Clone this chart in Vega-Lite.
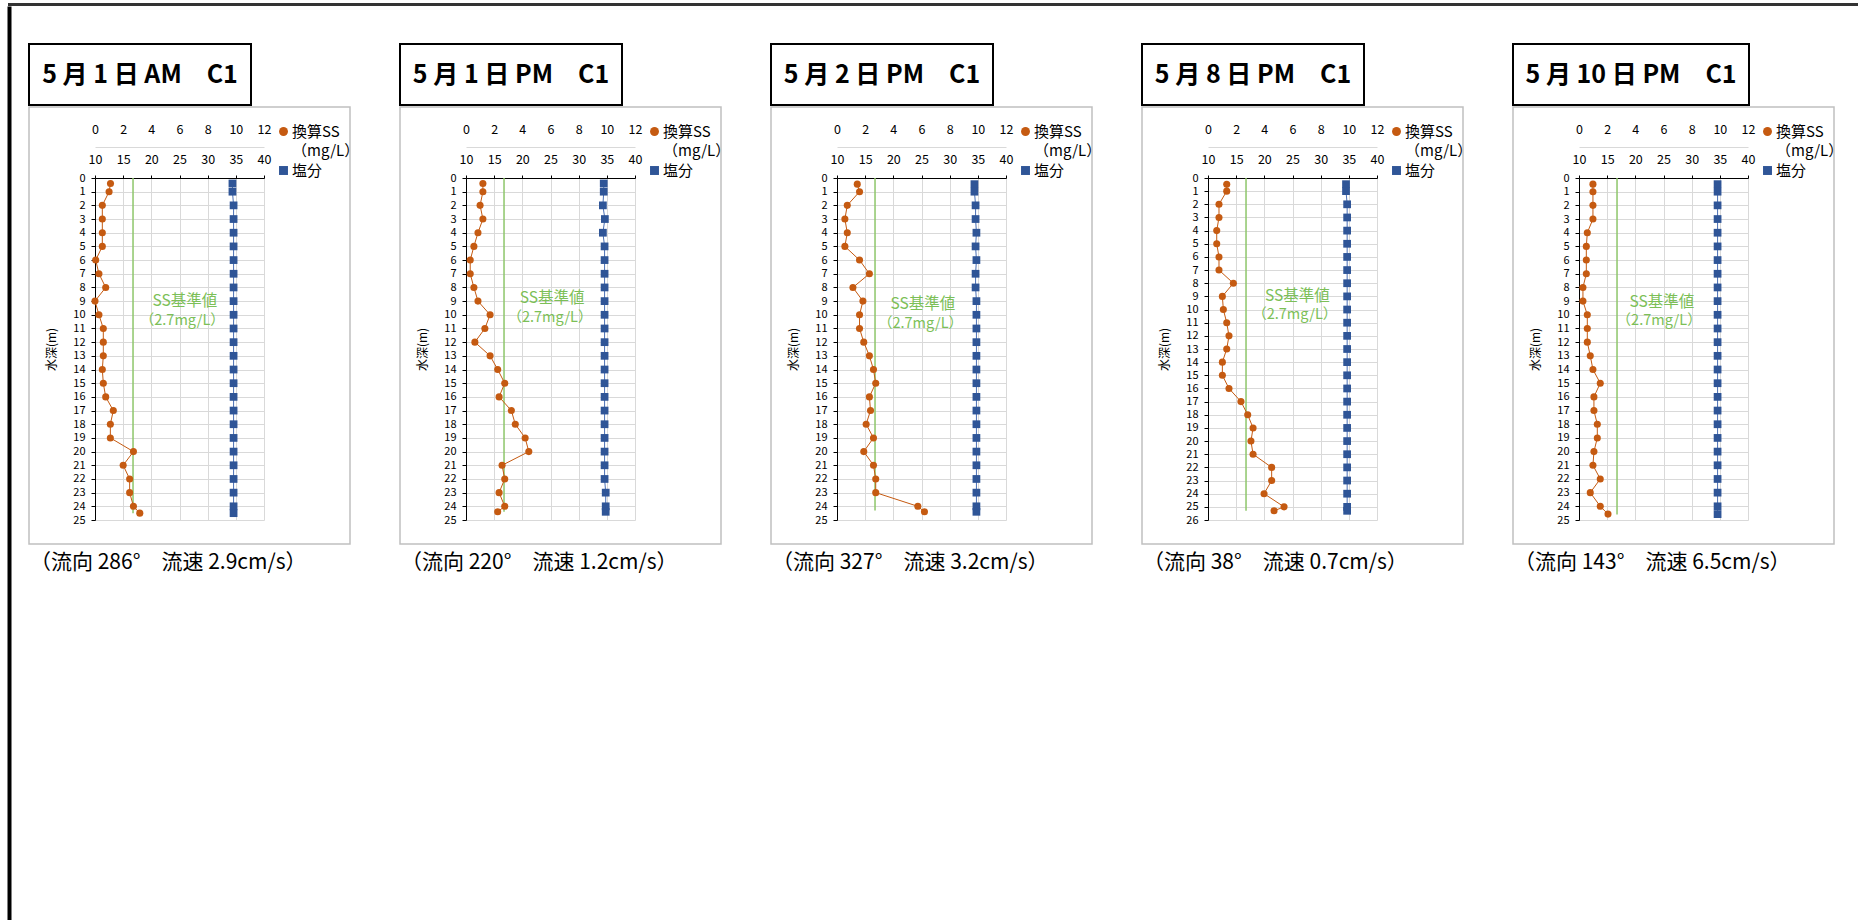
{
"$schema": "https://vega.github.io/schema/vega-lite/v6.json",
"padding": {"left": 7, "top": 3, "right": 0, "bottom": 0},
"background": "white",
"config": {
  "font": "Noto Sans CJK JP",
  "view": {"stroke": null},
  "axis": {"labelFont": "Noto Sans CJK JP", "titleFont": "Noto Sans CJK JP", "labelColor": "#000", "titleColor": "#000", "labelOverlap": false, "labelFlush": false},
  "legend": {"labelFont": "Noto Sans CJK JP", "labelColor": "#000"},
  "title": {"font": "Noto Sans CJK JP", "color": "#000", "fontWeight": "normal"}
},
"datasets": {
"d": [
{"p":1,"depth":0.4,"ss":1.1,"sal":34.4},{"p":1,"depth":1,"ss":1.0,"sal":34.4},{"p":1,"depth":2,"ss":0.52,"sal":34.6},{"p":1,"depth":3,"ss":0.52,"sal":34.6},{"p":1,"depth":4,"ss":0.52,"sal":34.6},{"p":1,"depth":5,"ss":0.52,"sal":34.6},{"p":1,"depth":6,"ss":0.05,"sal":34.6},{"p":1,"depth":7,"ss":0.28,"sal":34.6},{"p":1,"depth":8,"ss":0.76,"sal":34.6},{"p":1,"depth":9,"ss":0.0,"sal":34.6},{"p":1,"depth":10,"ss":0.28,"sal":34.6},{"p":1,"depth":11,"ss":0.59,"sal":34.6},{"p":1,"depth":12,"ss":0.59,"sal":34.6},{"p":1,"depth":13,"ss":0.59,"sal":34.6},{"p":1,"depth":14,"ss":0.52,"sal":34.6},{"p":1,"depth":15,"ss":0.59,"sal":34.6},{"p":1,"depth":16,"ss":0.76,"sal":34.6},{"p":1,"depth":17,"ss":1.3,"sal":34.6},{"p":1,"depth":18,"ss":1.09,"sal":34.6},{"p":1,"depth":19,"ss":1.09,"sal":34.6},{"p":1,"depth":20,"ss":2.73,"sal":34.6},{"p":1,"depth":21,"ss":2.0,"sal":34.6},{"p":1,"depth":22,"ss":2.46,"sal":34.6},{"p":1,"depth":23,"ss":2.46,"sal":34.6},{"p":1,"depth":24,"ss":2.73,"sal":34.6},{"p":1,"depth":24.5,"ss":3.18,"sal":34.6},
{"p":2,"depth":0.4,"ss":1.2,"sal":34.45},{"p":2,"depth":1,"ss":1.2,"sal":34.45},{"p":2,"depth":2,"ss":1.0,"sal":34.3},{"p":2,"depth":3,"ss":1.2,"sal":34.65},{"p":2,"depth":4,"ss":0.85,"sal":34.3},{"p":2,"depth":5,"ss":0.56,"sal":34.6},{"p":2,"depth":6,"ss":0.3,"sal":34.6},{"p":2,"depth":7,"ss":0.3,"sal":34.6},{"p":2,"depth":8,"ss":0.56,"sal":34.6},{"p":2,"depth":9,"ss":0.85,"sal":34.6},{"p":2,"depth":10,"ss":1.71,"sal":34.6},{"p":2,"depth":11,"ss":1.34,"sal":34.6},{"p":2,"depth":12,"ss":0.63,"sal":34.6},{"p":2,"depth":13,"ss":1.71,"sal":34.6},{"p":2,"depth":14,"ss":2.25,"sal":34.6},{"p":2,"depth":15,"ss":2.75,"sal":34.6},{"p":2,"depth":16,"ss":2.35,"sal":34.6},{"p":2,"depth":17,"ss":3.22,"sal":34.6},{"p":2,"depth":18,"ss":3.5,"sal":34.6},{"p":2,"depth":19,"ss":4.2,"sal":34.6},{"p":2,"depth":20,"ss":4.46,"sal":34.6},{"p":2,"depth":21,"ss":2.56,"sal":34.6},{"p":2,"depth":22,"ss":2.75,"sal":34.6},{"p":2,"depth":23,"ss":2.35,"sal":34.8},{"p":2,"depth":24,"ss":2.75,"sal":34.8},{"p":2,"depth":24.4,"ss":2.25,"sal":34.8},
{"p":3,"depth":0.45,"ss":1.44,"sal":34.4},{"p":3,"depth":1,"ss":1.6,"sal":34.4},{"p":3,"depth":2,"ss":0.73,"sal":34.6},{"p":3,"depth":3,"ss":0.56,"sal":34.6},{"p":3,"depth":4,"ss":0.73,"sal":34.75},{"p":3,"depth":5,"ss":0.56,"sal":34.6},{"p":3,"depth":6,"ss":1.6,"sal":34.75},{"p":3,"depth":7,"ss":2.3,"sal":34.6},{"p":3,"depth":8,"ss":1.13,"sal":34.6},{"p":3,"depth":9,"ss":1.84,"sal":34.75},{"p":3,"depth":10,"ss":1.6,"sal":34.75},{"p":3,"depth":11,"ss":1.6,"sal":34.75},{"p":3,"depth":12,"ss":1.9,"sal":34.75},{"p":3,"depth":13,"ss":2.3,"sal":34.75},{"p":3,"depth":14,"ss":2.59,"sal":34.75},{"p":3,"depth":15,"ss":2.75,"sal":34.75},{"p":3,"depth":16,"ss":2.3,"sal":34.75},{"p":3,"depth":17,"ss":2.38,"sal":34.75},{"p":3,"depth":18,"ss":2.07,"sal":34.75},{"p":3,"depth":19,"ss":2.59,"sal":34.75},{"p":3,"depth":20,"ss":1.9,"sal":34.75},{"p":3,"depth":21,"ss":2.59,"sal":34.75},{"p":3,"depth":22,"ss":2.75,"sal":34.75},{"p":3,"depth":23,"ss":2.75,"sal":34.75},{"p":3,"depth":24,"ss":5.74,"sal":34.75},{"p":3,"depth":24.4,"ss":6.21,"sal":34.75},
{"p":4,"depth":0.47,"ss":1.33,"sal":34.5},{"p":4,"depth":1,"ss":1.33,"sal":34.5},{"p":4,"depth":2,"ss":0.78,"sal":34.7},{"p":4,"depth":3,"ss":0.78,"sal":34.7},{"p":4,"depth":4,"ss":0.62,"sal":34.7},{"p":4,"depth":5,"ss":0.62,"sal":34.7},{"p":4,"depth":6,"ss":0.78,"sal":34.7},{"p":4,"depth":7,"ss":0.78,"sal":34.7},{"p":4,"depth":8,"ss":1.8,"sal":34.7},{"p":4,"depth":9,"ss":1.02,"sal":34.7},{"p":4,"depth":10,"ss":1.09,"sal":34.7},{"p":4,"depth":11,"ss":1.33,"sal":34.7},{"p":4,"depth":12,"ss":1.49,"sal":34.7},{"p":4,"depth":13,"ss":1.33,"sal":34.7},{"p":4,"depth":14,"ss":1.02,"sal":34.7},{"p":4,"depth":15,"ss":1.02,"sal":34.7},{"p":4,"depth":16,"ss":1.49,"sal":34.7},{"p":4,"depth":17,"ss":2.34,"sal":34.7},{"p":4,"depth":18,"ss":2.82,"sal":34.7},{"p":4,"depth":19,"ss":3.2,"sal":34.7},{"p":4,"depth":20,"ss":3.05,"sal":34.7},{"p":4,"depth":21,"ss":3.2,"sal":34.7},{"p":4,"depth":22,"ss":4.52,"sal":34.7},{"p":4,"depth":23,"ss":4.52,"sal":34.7},{"p":4,"depth":24,"ss":3.98,"sal":34.7},{"p":4,"depth":25,"ss":5.4,"sal":34.7},{"p":4,"depth":25.3,"ss":4.69,"sal":34.7},
{"p":5,"depth":0.45,"ss":0.99,"sal":34.6},{"p":5,"depth":1,"ss":0.99,"sal":34.6},{"p":5,"depth":2,"ss":0.99,"sal":34.6},{"p":5,"depth":3,"ss":0.99,"sal":34.6},{"p":5,"depth":4,"ss":0.59,"sal":34.6},{"p":5,"depth":5,"ss":0.52,"sal":34.6},{"p":5,"depth":6,"ss":0.52,"sal":34.6},{"p":5,"depth":7,"ss":0.52,"sal":34.6},{"p":5,"depth":8,"ss":0.28,"sal":34.6},{"p":5,"depth":9,"ss":0.28,"sal":34.6},{"p":5,"depth":10,"ss":0.59,"sal":34.6},{"p":5,"depth":11,"ss":0.59,"sal":34.6},{"p":5,"depth":12,"ss":0.59,"sal":34.6},{"p":5,"depth":13,"ss":0.8,"sal":34.6},{"p":5,"depth":14,"ss":0.99,"sal":34.6},{"p":5,"depth":15,"ss":1.51,"sal":34.6},{"p":5,"depth":16,"ss":1.06,"sal":34.6},{"p":5,"depth":17,"ss":1.06,"sal":34.6},{"p":5,"depth":18,"ss":1.3,"sal":34.6},{"p":5,"depth":19,"ss":1.3,"sal":34.6},{"p":5,"depth":20,"ss":1.06,"sal":34.6},{"p":5,"depth":21,"ss":0.99,"sal":34.6},{"p":5,"depth":22,"ss":1.51,"sal":34.6},{"p":5,"depth":23,"ss":0.8,"sal":34.6},{"p":5,"depth":24,"ss":1.51,"sal":34.6},{"p":5,"depth":24.57,"ss":2.06,"sal":34.6}
]
},
"spacing": 0,
"vconcat": [
 {"width": 1851, "height": 1, "view": {"stroke": "#333", "strokeWidth": 2}, "data": {"values": []}, "mark": "point"},
 {"spacing": 16, "hconcat": [
  {"width": 1, "height": 916, "view": {"stroke": "#000", "strokeWidth": 3}, "data": {"values": []}, "mark": "point"},
  {"spacing": 0, "vconcat": [
   {"width": 10, "height": 35, "data": {"values": []}, "mark": "point"},
   {"spacing": 39,
    "resolve": {"scale": {"color": "independent", "shape": "independent"}, "legend": {"color": "independent", "shape": "independent"}},
    "hconcat": [
{"spacing": 0, "vconcat": [
 {"width": 222, "height": 61, "view": {"stroke": "#000", "strokeWidth": 2}, "data": {"values": [{}]}, "mark": {"type": "text", "text": "5 月 1 日 AM　C1", "fontSize": 25, "fontWeight": "bold", "color": "#000"}},
 {"width": 321, "height": 437, "view": {"stroke": "#c0c0c0", "strokeWidth": 1.5},
  "title": {"text": "（流向 286°　流速 2.9cm/s）", "orient": "bottom", "anchor": "start", "frame": "group", "offset": 8, "dx": 1, "fontSize": 21},
  "data": {"name": "d"}, "transform": [{"filter": "datum.p == 1"}],
  "resolve": {"scale": {"x": "independent"}, "axis": {"x": "independent"}},
  "layer": [
   {"layer": [
     {"data": {"values": [{}]}, "mark": {"type": "rule", "color": "#8DC66A", "strokeWidth": 1.5},
      "encoding": {"x": {"datum": 2.7, "type": "quantitative", "scale": {"domain": [0, 12], "range": [66, 235], "nice": false, "zero": false}, "axis": {"orient": "top", "offset": -40, "values": [0,2,4,6,8,10,12], "grid": true, "gridColor": "#d9d9d9", "domainColor": "#d9d9d9", "ticks": false, "tickSize": 0, "labelPadding": 11, "labelFontSize": 12.5, "title": null}},
                   "y": {"datum": 0, "type": "quantitative", "scale": {"domain": [0, 25], "range": [71, 413], "nice": false, "zero": false}, "axis": {"orient": "left", "offset": -66, "values": [0,1,2,3,4,5,6,7,8,9,10,11,12,13,14,15,16,17,18,19,20,21,22,23,24,25], "grid": true, "gridColor": "#d9d9d9", "domainColor": "#000", "tickColor": "#000", "tickSize": 4, "labelPadding": 6, "labelFontSize": 11, "title": "水深(m)", "titleFontSize": 12, "titleFontWeight": "normal", "titlePadding": 14}},
                   "y2": {"datum": 24.5}}},
     {"data": {"values": [{}]}, "mark": {"type": "text", "text": "SS基準値", "fontSize": 15.5, "color": "#7CBF57"},
      "encoding": {"x": {"datum": 6.38, "type": "quantitative", "scale": {"domain": [0, 12], "range": [66, 235], "nice": false, "zero": false}, "axis": {"orient": "top", "offset": -40, "values": [0,2,4,6,8,10,12], "grid": true, "gridColor": "#d9d9d9", "domainColor": "#d9d9d9", "ticks": false, "tickSize": 0, "labelPadding": 11, "labelFontSize": 12.5, "title": null}},
                   "y": {"datum": 9.0, "type": "quantitative", "scale": {"domain": [0, 25], "range": [71, 413], "nice": false, "zero": false}, "axis": {"orient": "left", "offset": -66, "values": [0,1,2,3,4,5,6,7,8,9,10,11,12,13,14,15,16,17,18,19,20,21,22,23,24,25], "grid": true, "gridColor": "#d9d9d9", "domainColor": "#000", "tickColor": "#000", "tickSize": 4, "labelPadding": 6, "labelFontSize": 11, "title": "水深(m)", "titleFontSize": 12, "titleFontWeight": "normal", "titlePadding": 14}}}},
     {"data": {"values": [{}]}, "mark": {"type": "text", "text": "（2.7mg/L）", "fontSize": 14.5, "color": "#7CBF57"},
      "encoding": {"x": {"datum": 6.2, "type": "quantitative", "scale": {"domain": [0, 12], "range": [66, 235], "nice": false, "zero": false}, "axis": {"orient": "top", "offset": -40, "values": [0,2,4,6,8,10,12], "grid": true, "gridColor": "#d9d9d9", "domainColor": "#d9d9d9", "ticks": false, "tickSize": 0, "labelPadding": 11, "labelFontSize": 12.5, "title": null}},
                   "y": {"datum": 10.46, "type": "quantitative", "scale": {"domain": [0, 25], "range": [71, 413], "nice": false, "zero": false}, "axis": {"orient": "left", "offset": -66, "values": [0,1,2,3,4,5,6,7,8,9,10,11,12,13,14,15,16,17,18,19,20,21,22,23,24,25], "grid": true, "gridColor": "#d9d9d9", "domainColor": "#000", "tickColor": "#000", "tickSize": 4, "labelPadding": 6, "labelFontSize": 11, "title": "水深(m)", "titleFontSize": 12, "titleFontWeight": "normal", "titlePadding": 14}}}},
     {"mark": {"type": "line", "color": "#C55A11", "strokeWidth": 1},
      "encoding": {"x": {"field": "ss", "type": "quantitative", "scale": {"domain": [0, 12], "range": [66, 235], "nice": false, "zero": false}, "axis": {"orient": "top", "offset": -40, "values": [0,2,4,6,8,10,12], "grid": true, "gridColor": "#d9d9d9", "domainColor": "#d9d9d9", "ticks": false, "tickSize": 0, "labelPadding": 11, "labelFontSize": 12.5, "title": null}},
                   "y": {"field": "depth", "type": "quantitative", "scale": {"domain": [0, 25], "range": [71, 413], "nice": false, "zero": false}, "axis": {"orient": "left", "offset": -66, "values": [0,1,2,3,4,5,6,7,8,9,10,11,12,13,14,15,16,17,18,19,20,21,22,23,24,25], "grid": true, "gridColor": "#d9d9d9", "domainColor": "#000", "tickColor": "#000", "tickSize": 4, "labelPadding": 6, "labelFontSize": 11, "title": "水深(m)", "titleFontSize": 12, "titleFontWeight": "normal", "titlePadding": 14}},
                   "order": {"field": "depth", "type": "quantitative"}}},
     {"mark": {"type": "point", "filled": true, "opacity": 1, "size": 50},
      "encoding": {
        "x": {"field": "ss", "type": "quantitative", "scale": {"domain": [0, 12], "range": [66, 235], "nice": false, "zero": false}, "axis": {"orient": "top", "offset": -40, "values": [0,2,4,6,8,10,12], "grid": true, "gridColor": "#d9d9d9", "domainColor": "#d9d9d9", "ticks": false, "tickSize": 0, "labelPadding": 11, "labelFontSize": 12.5, "title": null}},
        "y": {"field": "depth", "type": "quantitative", "scale": {"domain": [0, 25], "range": [71, 413], "nice": false, "zero": false}, "axis": {"orient": "left", "offset": -66, "values": [0,1,2,3,4,5,6,7,8,9,10,11,12,13,14,15,16,17,18,19,20,21,22,23,24,25], "grid": true, "gridColor": "#d9d9d9", "domainColor": "#000", "tickColor": "#000", "tickSize": 4, "labelPadding": 6, "labelFontSize": 11, "title": "水深(m)", "titleFontSize": 12, "titleFontWeight": "normal", "titlePadding": 14}},
        "color": {"datum": "換算SS", "type": "nominal", "scale": {"domain": ["換算SS", "（mg/L）", "塩分"], "range": ["#C55A11", "rgba(0,0,0,0)", "#2F5597"]},
                  "legend": {"orient": "none", "legendX": 247, "legendY": 80, "title": null, "padding": 0, "labelFontSize": 15, "symbolSize": 80, "symbolStrokeWidth": 0, "rowPadding": 3.5, "labelOffset": 1}},
        "shape": {"datum": "換算SS", "type": "nominal", "scale": {"domain": ["換算SS", "（mg/L）", "塩分"], "range": ["circle", "circle", "square"]},
                  "legend": {"orient": "none", "legendX": 247, "legendY": 80, "title": null, "padding": 0, "labelFontSize": 15, "symbolSize": 80, "symbolStrokeWidth": 0, "rowPadding": 3.5, "labelOffset": 1}}
      }}
   ]},
   {"layer": [
     {"mark": {"type": "line", "color": "#4A6FB5", "strokeWidth": 1},
      "encoding": {"x": {"field": "sal", "type": "quantitative", "scale": {"domain": [10, 40], "range": [66, 235], "nice": false, "zero": false}, "axis": {"orient": "top", "offset": -71, "values": [10,15,20,25,30,35,40], "grid": false, "domainColor": "#000", "tickColor": "#000", "tickSize": 3, "labelPadding": 9, "labelFontSize": 12.5, "title": null}},
                   "y": {"field": "depth", "type": "quantitative", "scale": {"domain": [0, 25], "range": [71, 413], "nice": false, "zero": false}, "axis": {"orient": "left", "offset": -66, "values": [0,1,2,3,4,5,6,7,8,9,10,11,12,13,14,15,16,17,18,19,20,21,22,23,24,25], "grid": true, "gridColor": "#d9d9d9", "domainColor": "#000", "tickColor": "#000", "tickSize": 4, "labelPadding": 6, "labelFontSize": 11, "title": "水深(m)", "titleFontSize": 12, "titleFontWeight": "normal", "titlePadding": 14}},
                   "order": {"field": "depth", "type": "quantitative"}}},
     {"mark": {"type": "point", "filled": true, "opacity": 1, "size": 60},
      "encoding": {
        "x": {"field": "sal", "type": "quantitative", "scale": {"domain": [10, 40], "range": [66, 235], "nice": false, "zero": false}, "axis": {"orient": "top", "offset": -71, "values": [10,15,20,25,30,35,40], "grid": false, "domainColor": "#000", "tickColor": "#000", "tickSize": 3, "labelPadding": 9, "labelFontSize": 12.5, "title": null}},
        "y": {"field": "depth", "type": "quantitative", "scale": {"domain": [0, 25], "range": [71, 413], "nice": false, "zero": false}, "axis": {"orient": "left", "offset": -66, "values": [0,1,2,3,4,5,6,7,8,9,10,11,12,13,14,15,16,17,18,19,20,21,22,23,24,25], "grid": true, "gridColor": "#d9d9d9", "domainColor": "#000", "tickColor": "#000", "tickSize": 4, "labelPadding": 6, "labelFontSize": 11, "title": "水深(m)", "titleFontSize": 12, "titleFontWeight": "normal", "titlePadding": 14}},
        "color": {"datum": "塩分", "type": "nominal", "scale": {"domain": ["換算SS", "（mg/L）", "塩分"], "range": ["#C55A11", "rgba(0,0,0,0)", "#2F5597"]},
                  "legend": {"orient": "none", "legendX": 247, "legendY": 80, "title": null, "padding": 0, "labelFontSize": 15, "symbolSize": 80, "symbolStrokeWidth": 0, "rowPadding": 3.5, "labelOffset": 1}},
        "shape": {"datum": "塩分", "type": "nominal", "scale": {"domain": ["換算SS", "（mg/L）", "塩分"], "range": ["circle", "circle", "square"]},
                  "legend": {"orient": "none", "legendX": 247, "legendY": 80, "title": null, "padding": 0, "labelFontSize": 15, "symbolSize": 80, "symbolStrokeWidth": 0, "rowPadding": 3.5, "labelOffset": 1}}
      }}
   ]}
  ]}
]},
{"spacing": 0, "vconcat": [
 {"width": 222, "height": 61, "view": {"stroke": "#000", "strokeWidth": 2}, "data": {"values": [{}]}, "mark": {"type": "text", "text": "5 月 1 日 PM　C1", "fontSize": 25, "fontWeight": "bold", "color": "#000"}},
 {"width": 321, "height": 437, "view": {"stroke": "#c0c0c0", "strokeWidth": 1.5},
  "title": {"text": "（流向 220°　流速 1.2cm/s）", "orient": "bottom", "anchor": "start", "frame": "group", "offset": 8, "dx": 1, "fontSize": 21},
  "data": {"name": "d"}, "transform": [{"filter": "datum.p == 2"}],
  "resolve": {"scale": {"x": "independent"}, "axis": {"x": "independent"}},
  "layer": [
   {"layer": [
     {"data": {"values": [{}]}, "mark": {"type": "rule", "color": "#8DC66A", "strokeWidth": 1.5},
      "encoding": {"x": {"datum": 2.7, "type": "quantitative", "scale": {"domain": [0, 12], "range": [66, 235], "nice": false, "zero": false}, "axis": {"orient": "top", "offset": -40, "values": [0,2,4,6,8,10,12], "grid": true, "gridColor": "#d9d9d9", "domainColor": "#d9d9d9", "ticks": false, "tickSize": 0, "labelPadding": 11, "labelFontSize": 12.5, "title": null}},
                   "y": {"datum": 0, "type": "quantitative", "scale": {"domain": [0, 25], "range": [71, 413], "nice": false, "zero": false}, "axis": {"orient": "left", "offset": -66, "values": [0,1,2,3,4,5,6,7,8,9,10,11,12,13,14,15,16,17,18,19,20,21,22,23,24,25], "grid": true, "gridColor": "#d9d9d9", "domainColor": "#000", "tickColor": "#000", "tickSize": 4, "labelPadding": 6, "labelFontSize": 11, "title": "水深(m)", "titleFontSize": 12, "titleFontWeight": "normal", "titlePadding": 14}},
                   "y2": {"datum": 24.4}}},
     {"data": {"values": [{}]}, "mark": {"type": "text", "text": "SS基準値", "fontSize": 15.5, "color": "#7CBF57"},
      "encoding": {"x": {"datum": 6.11, "type": "quantitative", "scale": {"domain": [0, 12], "range": [66, 235], "nice": false, "zero": false}, "axis": {"orient": "top", "offset": -40, "values": [0,2,4,6,8,10,12], "grid": true, "gridColor": "#d9d9d9", "domainColor": "#d9d9d9", "ticks": false, "tickSize": 0, "labelPadding": 11, "labelFontSize": 12.5, "title": null}},
                   "y": {"datum": 8.75, "type": "quantitative", "scale": {"domain": [0, 25], "range": [71, 413], "nice": false, "zero": false}, "axis": {"orient": "left", "offset": -66, "values": [0,1,2,3,4,5,6,7,8,9,10,11,12,13,14,15,16,17,18,19,20,21,22,23,24,25], "grid": true, "gridColor": "#d9d9d9", "domainColor": "#000", "tickColor": "#000", "tickSize": 4, "labelPadding": 6, "labelFontSize": 11, "title": "水深(m)", "titleFontSize": 12, "titleFontWeight": "normal", "titlePadding": 14}}}},
     {"data": {"values": [{}]}, "mark": {"type": "text", "text": "（2.7mg/L）", "fontSize": 14.5, "color": "#7CBF57"},
      "encoding": {"x": {"datum": 5.96, "type": "quantitative", "scale": {"domain": [0, 12], "range": [66, 235], "nice": false, "zero": false}, "axis": {"orient": "top", "offset": -40, "values": [0,2,4,6,8,10,12], "grid": true, "gridColor": "#d9d9d9", "domainColor": "#d9d9d9", "ticks": false, "tickSize": 0, "labelPadding": 11, "labelFontSize": 12.5, "title": null}},
                   "y": {"datum": 10.22, "type": "quantitative", "scale": {"domain": [0, 25], "range": [71, 413], "nice": false, "zero": false}, "axis": {"orient": "left", "offset": -66, "values": [0,1,2,3,4,5,6,7,8,9,10,11,12,13,14,15,16,17,18,19,20,21,22,23,24,25], "grid": true, "gridColor": "#d9d9d9", "domainColor": "#000", "tickColor": "#000", "tickSize": 4, "labelPadding": 6, "labelFontSize": 11, "title": "水深(m)", "titleFontSize": 12, "titleFontWeight": "normal", "titlePadding": 14}}}},
     {"mark": {"type": "line", "color": "#C55A11", "strokeWidth": 1},
      "encoding": {"x": {"field": "ss", "type": "quantitative", "scale": {"domain": [0, 12], "range": [66, 235], "nice": false, "zero": false}, "axis": {"orient": "top", "offset": -40, "values": [0,2,4,6,8,10,12], "grid": true, "gridColor": "#d9d9d9", "domainColor": "#d9d9d9", "ticks": false, "tickSize": 0, "labelPadding": 11, "labelFontSize": 12.5, "title": null}},
                   "y": {"field": "depth", "type": "quantitative", "scale": {"domain": [0, 25], "range": [71, 413], "nice": false, "zero": false}, "axis": {"orient": "left", "offset": -66, "values": [0,1,2,3,4,5,6,7,8,9,10,11,12,13,14,15,16,17,18,19,20,21,22,23,24,25], "grid": true, "gridColor": "#d9d9d9", "domainColor": "#000", "tickColor": "#000", "tickSize": 4, "labelPadding": 6, "labelFontSize": 11, "title": "水深(m)", "titleFontSize": 12, "titleFontWeight": "normal", "titlePadding": 14}},
                   "order": {"field": "depth", "type": "quantitative"}}},
     {"mark": {"type": "point", "filled": true, "opacity": 1, "size": 50},
      "encoding": {
        "x": {"field": "ss", "type": "quantitative", "scale": {"domain": [0, 12], "range": [66, 235], "nice": false, "zero": false}, "axis": {"orient": "top", "offset": -40, "values": [0,2,4,6,8,10,12], "grid": true, "gridColor": "#d9d9d9", "domainColor": "#d9d9d9", "ticks": false, "tickSize": 0, "labelPadding": 11, "labelFontSize": 12.5, "title": null}},
        "y": {"field": "depth", "type": "quantitative", "scale": {"domain": [0, 25], "range": [71, 413], "nice": false, "zero": false}, "axis": {"orient": "left", "offset": -66, "values": [0,1,2,3,4,5,6,7,8,9,10,11,12,13,14,15,16,17,18,19,20,21,22,23,24,25], "grid": true, "gridColor": "#d9d9d9", "domainColor": "#000", "tickColor": "#000", "tickSize": 4, "labelPadding": 6, "labelFontSize": 11, "title": "水深(m)", "titleFontSize": 12, "titleFontWeight": "normal", "titlePadding": 14}},
        "color": {"datum": "換算SS", "type": "nominal", "scale": {"domain": ["換算SS", "（mg/L）", "塩分"], "range": ["#C55A11", "rgba(0,0,0,0)", "#2F5597"]},
                  "legend": {"orient": "none", "legendX": 247, "legendY": 80, "title": null, "padding": 0, "labelFontSize": 15, "symbolSize": 80, "symbolStrokeWidth": 0, "rowPadding": 3.5, "labelOffset": 1}},
        "shape": {"datum": "換算SS", "type": "nominal", "scale": {"domain": ["換算SS", "（mg/L）", "塩分"], "range": ["circle", "circle", "square"]},
                  "legend": {"orient": "none", "legendX": 247, "legendY": 80, "title": null, "padding": 0, "labelFontSize": 15, "symbolSize": 80, "symbolStrokeWidth": 0, "rowPadding": 3.5, "labelOffset": 1}}
      }}
   ]},
   {"layer": [
     {"mark": {"type": "line", "color": "#4A6FB5", "strokeWidth": 1},
      "encoding": {"x": {"field": "sal", "type": "quantitative", "scale": {"domain": [10, 40], "range": [66, 235], "nice": false, "zero": false}, "axis": {"orient": "top", "offset": -71, "values": [10,15,20,25,30,35,40], "grid": false, "domainColor": "#000", "tickColor": "#000", "tickSize": 3, "labelPadding": 9, "labelFontSize": 12.5, "title": null}},
                   "y": {"field": "depth", "type": "quantitative", "scale": {"domain": [0, 25], "range": [71, 413], "nice": false, "zero": false}, "axis": {"orient": "left", "offset": -66, "values": [0,1,2,3,4,5,6,7,8,9,10,11,12,13,14,15,16,17,18,19,20,21,22,23,24,25], "grid": true, "gridColor": "#d9d9d9", "domainColor": "#000", "tickColor": "#000", "tickSize": 4, "labelPadding": 6, "labelFontSize": 11, "title": "水深(m)", "titleFontSize": 12, "titleFontWeight": "normal", "titlePadding": 14}},
                   "order": {"field": "depth", "type": "quantitative"}}},
     {"mark": {"type": "point", "filled": true, "opacity": 1, "size": 60},
      "encoding": {
        "x": {"field": "sal", "type": "quantitative", "scale": {"domain": [10, 40], "range": [66, 235], "nice": false, "zero": false}, "axis": {"orient": "top", "offset": -71, "values": [10,15,20,25,30,35,40], "grid": false, "domainColor": "#000", "tickColor": "#000", "tickSize": 3, "labelPadding": 9, "labelFontSize": 12.5, "title": null}},
        "y": {"field": "depth", "type": "quantitative", "scale": {"domain": [0, 25], "range": [71, 413], "nice": false, "zero": false}, "axis": {"orient": "left", "offset": -66, "values": [0,1,2,3,4,5,6,7,8,9,10,11,12,13,14,15,16,17,18,19,20,21,22,23,24,25], "grid": true, "gridColor": "#d9d9d9", "domainColor": "#000", "tickColor": "#000", "tickSize": 4, "labelPadding": 6, "labelFontSize": 11, "title": "水深(m)", "titleFontSize": 12, "titleFontWeight": "normal", "titlePadding": 14}},
        "color": {"datum": "塩分", "type": "nominal", "scale": {"domain": ["換算SS", "（mg/L）", "塩分"], "range": ["#C55A11", "rgba(0,0,0,0)", "#2F5597"]},
                  "legend": {"orient": "none", "legendX": 247, "legendY": 80, "title": null, "padding": 0, "labelFontSize": 15, "symbolSize": 80, "symbolStrokeWidth": 0, "rowPadding": 3.5, "labelOffset": 1}},
        "shape": {"datum": "塩分", "type": "nominal", "scale": {"domain": ["換算SS", "（mg/L）", "塩分"], "range": ["circle", "circle", "square"]},
                  "legend": {"orient": "none", "legendX": 247, "legendY": 80, "title": null, "padding": 0, "labelFontSize": 15, "symbolSize": 80, "symbolStrokeWidth": 0, "rowPadding": 3.5, "labelOffset": 1}}
      }}
   ]}
  ]}
]},
{"spacing": 0, "vconcat": [
 {"width": 222, "height": 61, "view": {"stroke": "#000", "strokeWidth": 2}, "data": {"values": [{}]}, "mark": {"type": "text", "text": "5 月 2 日 PM　C1", "fontSize": 25, "fontWeight": "bold", "color": "#000"}},
 {"width": 321, "height": 437, "view": {"stroke": "#c0c0c0", "strokeWidth": 1.5},
  "title": {"text": "（流向 327°　流速 3.2cm/s）", "orient": "bottom", "anchor": "start", "frame": "group", "offset": 8, "dx": 1, "fontSize": 21},
  "data": {"name": "d"}, "transform": [{"filter": "datum.p == 3"}],
  "resolve": {"scale": {"x": "independent"}, "axis": {"x": "independent"}},
  "layer": [
   {"layer": [
     {"data": {"values": [{}]}, "mark": {"type": "rule", "color": "#8DC66A", "strokeWidth": 1.5},
      "encoding": {"x": {"datum": 2.7, "type": "quantitative", "scale": {"domain": [0, 12], "range": [66, 235], "nice": false, "zero": false}, "axis": {"orient": "top", "offset": -40, "values": [0,2,4,6,8,10,12], "grid": true, "gridColor": "#d9d9d9", "domainColor": "#d9d9d9", "ticks": false, "tickSize": 0, "labelPadding": 11, "labelFontSize": 12.5, "title": null}},
                   "y": {"datum": 0, "type": "quantitative", "scale": {"domain": [0, 25], "range": [71, 413], "nice": false, "zero": false}, "axis": {"orient": "left", "offset": -66, "values": [0,1,2,3,4,5,6,7,8,9,10,11,12,13,14,15,16,17,18,19,20,21,22,23,24,25], "grid": true, "gridColor": "#d9d9d9", "domainColor": "#000", "tickColor": "#000", "tickSize": 4, "labelPadding": 6, "labelFontSize": 11, "title": "水深(m)", "titleFontSize": 12, "titleFontWeight": "normal", "titlePadding": 14}},
                   "y2": {"datum": 24.3}}},
     {"data": {"values": [{}]}, "mark": {"type": "text", "text": "SS基準値", "fontSize": 15.5, "color": "#7CBF57"},
      "encoding": {"x": {"datum": 6.09, "type": "quantitative", "scale": {"domain": [0, 12], "range": [66, 235], "nice": false, "zero": false}, "axis": {"orient": "top", "offset": -40, "values": [0,2,4,6,8,10,12], "grid": true, "gridColor": "#d9d9d9", "domainColor": "#d9d9d9", "ticks": false, "tickSize": 0, "labelPadding": 11, "labelFontSize": 12.5, "title": null}},
                   "y": {"datum": 9.21, "type": "quantitative", "scale": {"domain": [0, 25], "range": [71, 413], "nice": false, "zero": false}, "axis": {"orient": "left", "offset": -66, "values": [0,1,2,3,4,5,6,7,8,9,10,11,12,13,14,15,16,17,18,19,20,21,22,23,24,25], "grid": true, "gridColor": "#d9d9d9", "domainColor": "#000", "tickColor": "#000", "tickSize": 4, "labelPadding": 6, "labelFontSize": 11, "title": "水深(m)", "titleFontSize": 12, "titleFontWeight": "normal", "titlePadding": 14}}}},
     {"data": {"values": [{}]}, "mark": {"type": "text", "text": "（2.7mg/L）", "fontSize": 14.5, "color": "#7CBF57"},
      "encoding": {"x": {"datum": 5.93, "type": "quantitative", "scale": {"domain": [0, 12], "range": [66, 235], "nice": false, "zero": false}, "axis": {"orient": "top", "offset": -40, "values": [0,2,4,6,8,10,12], "grid": true, "gridColor": "#d9d9d9", "domainColor": "#d9d9d9", "ticks": false, "tickSize": 0, "labelPadding": 11, "labelFontSize": 12.5, "title": null}},
                   "y": {"datum": 10.69, "type": "quantitative", "scale": {"domain": [0, 25], "range": [71, 413], "nice": false, "zero": false}, "axis": {"orient": "left", "offset": -66, "values": [0,1,2,3,4,5,6,7,8,9,10,11,12,13,14,15,16,17,18,19,20,21,22,23,24,25], "grid": true, "gridColor": "#d9d9d9", "domainColor": "#000", "tickColor": "#000", "tickSize": 4, "labelPadding": 6, "labelFontSize": 11, "title": "水深(m)", "titleFontSize": 12, "titleFontWeight": "normal", "titlePadding": 14}}}},
     {"mark": {"type": "line", "color": "#C55A11", "strokeWidth": 1},
      "encoding": {"x": {"field": "ss", "type": "quantitative", "scale": {"domain": [0, 12], "range": [66, 235], "nice": false, "zero": false}, "axis": {"orient": "top", "offset": -40, "values": [0,2,4,6,8,10,12], "grid": true, "gridColor": "#d9d9d9", "domainColor": "#d9d9d9", "ticks": false, "tickSize": 0, "labelPadding": 11, "labelFontSize": 12.5, "title": null}},
                   "y": {"field": "depth", "type": "quantitative", "scale": {"domain": [0, 25], "range": [71, 413], "nice": false, "zero": false}, "axis": {"orient": "left", "offset": -66, "values": [0,1,2,3,4,5,6,7,8,9,10,11,12,13,14,15,16,17,18,19,20,21,22,23,24,25], "grid": true, "gridColor": "#d9d9d9", "domainColor": "#000", "tickColor": "#000", "tickSize": 4, "labelPadding": 6, "labelFontSize": 11, "title": "水深(m)", "titleFontSize": 12, "titleFontWeight": "normal", "titlePadding": 14}},
                   "order": {"field": "depth", "type": "quantitative"}}},
     {"mark": {"type": "point", "filled": true, "opacity": 1, "size": 50},
      "encoding": {
        "x": {"field": "ss", "type": "quantitative", "scale": {"domain": [0, 12], "range": [66, 235], "nice": false, "zero": false}, "axis": {"orient": "top", "offset": -40, "values": [0,2,4,6,8,10,12], "grid": true, "gridColor": "#d9d9d9", "domainColor": "#d9d9d9", "ticks": false, "tickSize": 0, "labelPadding": 11, "labelFontSize": 12.5, "title": null}},
        "y": {"field": "depth", "type": "quantitative", "scale": {"domain": [0, 25], "range": [71, 413], "nice": false, "zero": false}, "axis": {"orient": "left", "offset": -66, "values": [0,1,2,3,4,5,6,7,8,9,10,11,12,13,14,15,16,17,18,19,20,21,22,23,24,25], "grid": true, "gridColor": "#d9d9d9", "domainColor": "#000", "tickColor": "#000", "tickSize": 4, "labelPadding": 6, "labelFontSize": 11, "title": "水深(m)", "titleFontSize": 12, "titleFontWeight": "normal", "titlePadding": 14}},
        "color": {"datum": "換算SS", "type": "nominal", "scale": {"domain": ["換算SS", "（mg/L）", "塩分"], "range": ["#C55A11", "rgba(0,0,0,0)", "#2F5597"]},
                  "legend": {"orient": "none", "legendX": 247, "legendY": 80, "title": null, "padding": 0, "labelFontSize": 15, "symbolSize": 80, "symbolStrokeWidth": 0, "rowPadding": 3.5, "labelOffset": 1}},
        "shape": {"datum": "換算SS", "type": "nominal", "scale": {"domain": ["換算SS", "（mg/L）", "塩分"], "range": ["circle", "circle", "square"]},
                  "legend": {"orient": "none", "legendX": 247, "legendY": 80, "title": null, "padding": 0, "labelFontSize": 15, "symbolSize": 80, "symbolStrokeWidth": 0, "rowPadding": 3.5, "labelOffset": 1}}
      }}
   ]},
   {"layer": [
     {"mark": {"type": "line", "color": "#4A6FB5", "strokeWidth": 1},
      "encoding": {"x": {"field": "sal", "type": "quantitative", "scale": {"domain": [10, 40], "range": [66, 235], "nice": false, "zero": false}, "axis": {"orient": "top", "offset": -71, "values": [10,15,20,25,30,35,40], "grid": false, "domainColor": "#000", "tickColor": "#000", "tickSize": 3, "labelPadding": 9, "labelFontSize": 12.5, "title": null}},
                   "y": {"field": "depth", "type": "quantitative", "scale": {"domain": [0, 25], "range": [71, 413], "nice": false, "zero": false}, "axis": {"orient": "left", "offset": -66, "values": [0,1,2,3,4,5,6,7,8,9,10,11,12,13,14,15,16,17,18,19,20,21,22,23,24,25], "grid": true, "gridColor": "#d9d9d9", "domainColor": "#000", "tickColor": "#000", "tickSize": 4, "labelPadding": 6, "labelFontSize": 11, "title": "水深(m)", "titleFontSize": 12, "titleFontWeight": "normal", "titlePadding": 14}},
                   "order": {"field": "depth", "type": "quantitative"}}},
     {"mark": {"type": "point", "filled": true, "opacity": 1, "size": 60},
      "encoding": {
        "x": {"field": "sal", "type": "quantitative", "scale": {"domain": [10, 40], "range": [66, 235], "nice": false, "zero": false}, "axis": {"orient": "top", "offset": -71, "values": [10,15,20,25,30,35,40], "grid": false, "domainColor": "#000", "tickColor": "#000", "tickSize": 3, "labelPadding": 9, "labelFontSize": 12.5, "title": null}},
        "y": {"field": "depth", "type": "quantitative", "scale": {"domain": [0, 25], "range": [71, 413], "nice": false, "zero": false}, "axis": {"orient": "left", "offset": -66, "values": [0,1,2,3,4,5,6,7,8,9,10,11,12,13,14,15,16,17,18,19,20,21,22,23,24,25], "grid": true, "gridColor": "#d9d9d9", "domainColor": "#000", "tickColor": "#000", "tickSize": 4, "labelPadding": 6, "labelFontSize": 11, "title": "水深(m)", "titleFontSize": 12, "titleFontWeight": "normal", "titlePadding": 14}},
        "color": {"datum": "塩分", "type": "nominal", "scale": {"domain": ["換算SS", "（mg/L）", "塩分"], "range": ["#C55A11", "rgba(0,0,0,0)", "#2F5597"]},
                  "legend": {"orient": "none", "legendX": 247, "legendY": 80, "title": null, "padding": 0, "labelFontSize": 15, "symbolSize": 80, "symbolStrokeWidth": 0, "rowPadding": 3.5, "labelOffset": 1}},
        "shape": {"datum": "塩分", "type": "nominal", "scale": {"domain": ["換算SS", "（mg/L）", "塩分"], "range": ["circle", "circle", "square"]},
                  "legend": {"orient": "none", "legendX": 247, "legendY": 80, "title": null, "padding": 0, "labelFontSize": 15, "symbolSize": 80, "symbolStrokeWidth": 0, "rowPadding": 3.5, "labelOffset": 1}}
      }}
   ]}
  ]}
]},
{"spacing": 0, "vconcat": [
 {"width": 222, "height": 61, "view": {"stroke": "#000", "strokeWidth": 2}, "data": {"values": [{}]}, "mark": {"type": "text", "text": "5 月 8 日 PM　C1", "fontSize": 25, "fontWeight": "bold", "color": "#000"}},
 {"width": 321, "height": 437, "view": {"stroke": "#c0c0c0", "strokeWidth": 1.5},
  "title": {"text": "（流向 38°　流速 0.7cm/s）", "orient": "bottom", "anchor": "start", "frame": "group", "offset": 8, "dx": 1, "fontSize": 21},
  "data": {"name": "d"}, "transform": [{"filter": "datum.p == 4"}],
  "resolve": {"scale": {"x": "independent"}, "axis": {"x": "independent"}},
  "layer": [
   {"layer": [
     {"data": {"values": [{}]}, "mark": {"type": "rule", "color": "#8DC66A", "strokeWidth": 1.5},
      "encoding": {"x": {"datum": 2.7, "type": "quantitative", "scale": {"domain": [0, 12], "range": [66, 235], "nice": false, "zero": false}, "axis": {"orient": "top", "offset": -40, "values": [0,2,4,6,8,10,12], "grid": true, "gridColor": "#d9d9d9", "domainColor": "#d9d9d9", "ticks": false, "tickSize": 0, "labelPadding": 11, "labelFontSize": 12.5, "title": null}},
                   "y": {"datum": 0, "type": "quantitative", "scale": {"domain": [0, 26], "range": [71, 413], "nice": false, "zero": false}, "axis": {"orient": "left", "offset": -66, "values": [0,1,2,3,4,5,6,7,8,9,10,11,12,13,14,15,16,17,18,19,20,21,22,23,24,25,26], "grid": true, "gridColor": "#d9d9d9", "domainColor": "#000", "tickColor": "#000", "tickSize": 4, "labelPadding": 6, "labelFontSize": 11, "title": "水深(m)", "titleFontSize": 12, "titleFontWeight": "normal", "titlePadding": 14}},
                   "y2": {"datum": 25.3}}},
     {"data": {"values": [{}]}, "mark": {"type": "text", "text": "SS基準値", "fontSize": 15.5, "color": "#7CBF57"},
      "encoding": {"x": {"datum": 6.34, "type": "quantitative", "scale": {"domain": [0, 12], "range": [66, 235], "nice": false, "zero": false}, "axis": {"orient": "top", "offset": -40, "values": [0,2,4,6,8,10,12], "grid": true, "gridColor": "#d9d9d9", "domainColor": "#d9d9d9", "ticks": false, "tickSize": 0, "labelPadding": 11, "labelFontSize": 12.5, "title": null}},
                   "y": {"datum": 8.95, "type": "quantitative", "scale": {"domain": [0, 26], "range": [71, 413], "nice": false, "zero": false}, "axis": {"orient": "left", "offset": -66, "values": [0,1,2,3,4,5,6,7,8,9,10,11,12,13,14,15,16,17,18,19,20,21,22,23,24,25,26], "grid": true, "gridColor": "#d9d9d9", "domainColor": "#000", "tickColor": "#000", "tickSize": 4, "labelPadding": 6, "labelFontSize": 11, "title": "水深(m)", "titleFontSize": 12, "titleFontWeight": "normal", "titlePadding": 14}}}},
     {"data": {"values": [{}]}, "mark": {"type": "text", "text": "（2.7mg/L）", "fontSize": 14.5, "color": "#7CBF57"},
      "encoding": {"x": {"datum": 6.16, "type": "quantitative", "scale": {"domain": [0, 12], "range": [66, 235], "nice": false, "zero": false}, "axis": {"orient": "top", "offset": -40, "values": [0,2,4,6,8,10,12], "grid": true, "gridColor": "#d9d9d9", "domainColor": "#d9d9d9", "ticks": false, "tickSize": 0, "labelPadding": 11, "labelFontSize": 12.5, "title": null}},
                   "y": {"datum": 10.45, "type": "quantitative", "scale": {"domain": [0, 26], "range": [71, 413], "nice": false, "zero": false}, "axis": {"orient": "left", "offset": -66, "values": [0,1,2,3,4,5,6,7,8,9,10,11,12,13,14,15,16,17,18,19,20,21,22,23,24,25,26], "grid": true, "gridColor": "#d9d9d9", "domainColor": "#000", "tickColor": "#000", "tickSize": 4, "labelPadding": 6, "labelFontSize": 11, "title": "水深(m)", "titleFontSize": 12, "titleFontWeight": "normal", "titlePadding": 14}}}},
     {"mark": {"type": "line", "color": "#C55A11", "strokeWidth": 1},
      "encoding": {"x": {"field": "ss", "type": "quantitative", "scale": {"domain": [0, 12], "range": [66, 235], "nice": false, "zero": false}, "axis": {"orient": "top", "offset": -40, "values": [0,2,4,6,8,10,12], "grid": true, "gridColor": "#d9d9d9", "domainColor": "#d9d9d9", "ticks": false, "tickSize": 0, "labelPadding": 11, "labelFontSize": 12.5, "title": null}},
                   "y": {"field": "depth", "type": "quantitative", "scale": {"domain": [0, 26], "range": [71, 413], "nice": false, "zero": false}, "axis": {"orient": "left", "offset": -66, "values": [0,1,2,3,4,5,6,7,8,9,10,11,12,13,14,15,16,17,18,19,20,21,22,23,24,25,26], "grid": true, "gridColor": "#d9d9d9", "domainColor": "#000", "tickColor": "#000", "tickSize": 4, "labelPadding": 6, "labelFontSize": 11, "title": "水深(m)", "titleFontSize": 12, "titleFontWeight": "normal", "titlePadding": 14}},
                   "order": {"field": "depth", "type": "quantitative"}}},
     {"mark": {"type": "point", "filled": true, "opacity": 1, "size": 50},
      "encoding": {
        "x": {"field": "ss", "type": "quantitative", "scale": {"domain": [0, 12], "range": [66, 235], "nice": false, "zero": false}, "axis": {"orient": "top", "offset": -40, "values": [0,2,4,6,8,10,12], "grid": true, "gridColor": "#d9d9d9", "domainColor": "#d9d9d9", "ticks": false, "tickSize": 0, "labelPadding": 11, "labelFontSize": 12.5, "title": null}},
        "y": {"field": "depth", "type": "quantitative", "scale": {"domain": [0, 26], "range": [71, 413], "nice": false, "zero": false}, "axis": {"orient": "left", "offset": -66, "values": [0,1,2,3,4,5,6,7,8,9,10,11,12,13,14,15,16,17,18,19,20,21,22,23,24,25,26], "grid": true, "gridColor": "#d9d9d9", "domainColor": "#000", "tickColor": "#000", "tickSize": 4, "labelPadding": 6, "labelFontSize": 11, "title": "水深(m)", "titleFontSize": 12, "titleFontWeight": "normal", "titlePadding": 14}},
        "color": {"datum": "換算SS", "type": "nominal", "scale": {"domain": ["換算SS", "（mg/L）", "塩分"], "range": ["#C55A11", "rgba(0,0,0,0)", "#2F5597"]},
                  "legend": {"orient": "none", "legendX": 247, "legendY": 80, "title": null, "padding": 0, "labelFontSize": 15, "symbolSize": 80, "symbolStrokeWidth": 0, "rowPadding": 3.5, "labelOffset": 1}},
        "shape": {"datum": "換算SS", "type": "nominal", "scale": {"domain": ["換算SS", "（mg/L）", "塩分"], "range": ["circle", "circle", "square"]},
                  "legend": {"orient": "none", "legendX": 247, "legendY": 80, "title": null, "padding": 0, "labelFontSize": 15, "symbolSize": 80, "symbolStrokeWidth": 0, "rowPadding": 3.5, "labelOffset": 1}}
      }}
   ]},
   {"layer": [
     {"mark": {"type": "line", "color": "#4A6FB5", "strokeWidth": 1},
      "encoding": {"x": {"field": "sal", "type": "quantitative", "scale": {"domain": [10, 40], "range": [66, 235], "nice": false, "zero": false}, "axis": {"orient": "top", "offset": -71, "values": [10,15,20,25,30,35,40], "grid": false, "domainColor": "#000", "tickColor": "#000", "tickSize": 3, "labelPadding": 9, "labelFontSize": 12.5, "title": null}},
                   "y": {"field": "depth", "type": "quantitative", "scale": {"domain": [0, 26], "range": [71, 413], "nice": false, "zero": false}, "axis": {"orient": "left", "offset": -66, "values": [0,1,2,3,4,5,6,7,8,9,10,11,12,13,14,15,16,17,18,19,20,21,22,23,24,25,26], "grid": true, "gridColor": "#d9d9d9", "domainColor": "#000", "tickColor": "#000", "tickSize": 4, "labelPadding": 6, "labelFontSize": 11, "title": "水深(m)", "titleFontSize": 12, "titleFontWeight": "normal", "titlePadding": 14}},
                   "order": {"field": "depth", "type": "quantitative"}}},
     {"mark": {"type": "point", "filled": true, "opacity": 1, "size": 60},
      "encoding": {
        "x": {"field": "sal", "type": "quantitative", "scale": {"domain": [10, 40], "range": [66, 235], "nice": false, "zero": false}, "axis": {"orient": "top", "offset": -71, "values": [10,15,20,25,30,35,40], "grid": false, "domainColor": "#000", "tickColor": "#000", "tickSize": 3, "labelPadding": 9, "labelFontSize": 12.5, "title": null}},
        "y": {"field": "depth", "type": "quantitative", "scale": {"domain": [0, 26], "range": [71, 413], "nice": false, "zero": false}, "axis": {"orient": "left", "offset": -66, "values": [0,1,2,3,4,5,6,7,8,9,10,11,12,13,14,15,16,17,18,19,20,21,22,23,24,25,26], "grid": true, "gridColor": "#d9d9d9", "domainColor": "#000", "tickColor": "#000", "tickSize": 4, "labelPadding": 6, "labelFontSize": 11, "title": "水深(m)", "titleFontSize": 12, "titleFontWeight": "normal", "titlePadding": 14}},
        "color": {"datum": "塩分", "type": "nominal", "scale": {"domain": ["換算SS", "（mg/L）", "塩分"], "range": ["#C55A11", "rgba(0,0,0,0)", "#2F5597"]},
                  "legend": {"orient": "none", "legendX": 247, "legendY": 80, "title": null, "padding": 0, "labelFontSize": 15, "symbolSize": 80, "symbolStrokeWidth": 0, "rowPadding": 3.5, "labelOffset": 1}},
        "shape": {"datum": "塩分", "type": "nominal", "scale": {"domain": ["換算SS", "（mg/L）", "塩分"], "range": ["circle", "circle", "square"]},
                  "legend": {"orient": "none", "legendX": 247, "legendY": 80, "title": null, "padding": 0, "labelFontSize": 15, "symbolSize": 80, "symbolStrokeWidth": 0, "rowPadding": 3.5, "labelOffset": 1}}
      }}
   ]}
  ]}
]},
{"spacing": 0, "vconcat": [
 {"width": 236, "height": 61, "view": {"stroke": "#000", "strokeWidth": 2}, "data": {"values": [{}]}, "mark": {"type": "text", "text": "5 月 10 日 PM　C1", "fontSize": 25, "fontWeight": "bold", "color": "#000"}},
 {"width": 321, "height": 437, "view": {"stroke": "#c0c0c0", "strokeWidth": 1.5},
  "title": {"text": "（流向 143°　流速 6.5cm/s）", "orient": "bottom", "anchor": "start", "frame": "group", "offset": 8, "dx": 1, "fontSize": 21},
  "data": {"name": "d"}, "transform": [{"filter": "datum.p == 5"}],
  "resolve": {"scale": {"x": "independent"}, "axis": {"x": "independent"}},
  "layer": [
   {"layer": [
     {"data": {"values": [{}]}, "mark": {"type": "rule", "color": "#8DC66A", "strokeWidth": 1.5},
      "encoding": {"x": {"datum": 2.7, "type": "quantitative", "scale": {"domain": [0, 12], "range": [66, 235], "nice": false, "zero": false}, "axis": {"orient": "top", "offset": -40, "values": [0,2,4,6,8,10,12], "grid": true, "gridColor": "#d9d9d9", "domainColor": "#d9d9d9", "ticks": false, "tickSize": 0, "labelPadding": 11, "labelFontSize": 12.5, "title": null}},
                   "y": {"datum": 0, "type": "quantitative", "scale": {"domain": [0, 25], "range": [71, 413], "nice": false, "zero": false}, "axis": {"orient": "left", "offset": -66, "values": [0,1,2,3,4,5,6,7,8,9,10,11,12,13,14,15,16,17,18,19,20,21,22,23,24,25], "grid": true, "gridColor": "#d9d9d9", "domainColor": "#000", "tickColor": "#000", "tickSize": 4, "labelPadding": 6, "labelFontSize": 11, "title": "水深(m)", "titleFontSize": 12, "titleFontWeight": "normal", "titlePadding": 14}},
                   "y2": {"datum": 24.6}}},
     {"data": {"values": [{}]}, "mark": {"type": "text", "text": "SS基準値", "fontSize": 15.5, "color": "#7CBF57"},
      "encoding": {"x": {"datum": 5.88, "type": "quantitative", "scale": {"domain": [0, 12], "range": [66, 235], "nice": false, "zero": false}, "axis": {"orient": "top", "offset": -40, "values": [0,2,4,6,8,10,12], "grid": true, "gridColor": "#d9d9d9", "domainColor": "#d9d9d9", "ticks": false, "tickSize": 0, "labelPadding": 11, "labelFontSize": 12.5, "title": null}},
                   "y": {"datum": 9.06, "type": "quantitative", "scale": {"domain": [0, 25], "range": [71, 413], "nice": false, "zero": false}, "axis": {"orient": "left", "offset": -66, "values": [0,1,2,3,4,5,6,7,8,9,10,11,12,13,14,15,16,17,18,19,20,21,22,23,24,25], "grid": true, "gridColor": "#d9d9d9", "domainColor": "#000", "tickColor": "#000", "tickSize": 4, "labelPadding": 6, "labelFontSize": 11, "title": "水深(m)", "titleFontSize": 12, "titleFontWeight": "normal", "titlePadding": 14}}}},
     {"data": {"values": [{}]}, "mark": {"type": "text", "text": "（2.7mg/L）", "fontSize": 14.5, "color": "#7CBF57"},
      "encoding": {"x": {"datum": 5.69, "type": "quantitative", "scale": {"domain": [0, 12], "range": [66, 235], "nice": false, "zero": false}, "axis": {"orient": "top", "offset": -40, "values": [0,2,4,6,8,10,12], "grid": true, "gridColor": "#d9d9d9", "domainColor": "#d9d9d9", "ticks": false, "tickSize": 0, "labelPadding": 11, "labelFontSize": 12.5, "title": null}},
                   "y": {"datum": 10.48, "type": "quantitative", "scale": {"domain": [0, 25], "range": [71, 413], "nice": false, "zero": false}, "axis": {"orient": "left", "offset": -66, "values": [0,1,2,3,4,5,6,7,8,9,10,11,12,13,14,15,16,17,18,19,20,21,22,23,24,25], "grid": true, "gridColor": "#d9d9d9", "domainColor": "#000", "tickColor": "#000", "tickSize": 4, "labelPadding": 6, "labelFontSize": 11, "title": "水深(m)", "titleFontSize": 12, "titleFontWeight": "normal", "titlePadding": 14}}}},
     {"mark": {"type": "line", "color": "#C55A11", "strokeWidth": 1},
      "encoding": {"x": {"field": "ss", "type": "quantitative", "scale": {"domain": [0, 12], "range": [66, 235], "nice": false, "zero": false}, "axis": {"orient": "top", "offset": -40, "values": [0,2,4,6,8,10,12], "grid": true, "gridColor": "#d9d9d9", "domainColor": "#d9d9d9", "ticks": false, "tickSize": 0, "labelPadding": 11, "labelFontSize": 12.5, "title": null}},
                   "y": {"field": "depth", "type": "quantitative", "scale": {"domain": [0, 25], "range": [71, 413], "nice": false, "zero": false}, "axis": {"orient": "left", "offset": -66, "values": [0,1,2,3,4,5,6,7,8,9,10,11,12,13,14,15,16,17,18,19,20,21,22,23,24,25], "grid": true, "gridColor": "#d9d9d9", "domainColor": "#000", "tickColor": "#000", "tickSize": 4, "labelPadding": 6, "labelFontSize": 11, "title": "水深(m)", "titleFontSize": 12, "titleFontWeight": "normal", "titlePadding": 14}},
                   "order": {"field": "depth", "type": "quantitative"}}},
     {"mark": {"type": "point", "filled": true, "opacity": 1, "size": 50},
      "encoding": {
        "x": {"field": "ss", "type": "quantitative", "scale": {"domain": [0, 12], "range": [66, 235], "nice": false, "zero": false}, "axis": {"orient": "top", "offset": -40, "values": [0,2,4,6,8,10,12], "grid": true, "gridColor": "#d9d9d9", "domainColor": "#d9d9d9", "ticks": false, "tickSize": 0, "labelPadding": 11, "labelFontSize": 12.5, "title": null}},
        "y": {"field": "depth", "type": "quantitative", "scale": {"domain": [0, 25], "range": [71, 413], "nice": false, "zero": false}, "axis": {"orient": "left", "offset": -66, "values": [0,1,2,3,4,5,6,7,8,9,10,11,12,13,14,15,16,17,18,19,20,21,22,23,24,25], "grid": true, "gridColor": "#d9d9d9", "domainColor": "#000", "tickColor": "#000", "tickSize": 4, "labelPadding": 6, "labelFontSize": 11, "title": "水深(m)", "titleFontSize": 12, "titleFontWeight": "normal", "titlePadding": 14}},
        "color": {"datum": "換算SS", "type": "nominal", "scale": {"domain": ["換算SS", "（mg/L）", "塩分"], "range": ["#C55A11", "rgba(0,0,0,0)", "#2F5597"]},
                  "legend": {"orient": "none", "legendX": 247, "legendY": 80, "title": null, "padding": 0, "labelFontSize": 15, "symbolSize": 80, "symbolStrokeWidth": 0, "rowPadding": 3.5, "labelOffset": 1}},
        "shape": {"datum": "換算SS", "type": "nominal", "scale": {"domain": ["換算SS", "（mg/L）", "塩分"], "range": ["circle", "circle", "square"]},
                  "legend": {"orient": "none", "legendX": 247, "legendY": 80, "title": null, "padding": 0, "labelFontSize": 15, "symbolSize": 80, "symbolStrokeWidth": 0, "rowPadding": 3.5, "labelOffset": 1}}
      }}
   ]},
   {"layer": [
     {"mark": {"type": "line", "color": "#4A6FB5", "strokeWidth": 1},
      "encoding": {"x": {"field": "sal", "type": "quantitative", "scale": {"domain": [10, 40], "range": [66, 235], "nice": false, "zero": false}, "axis": {"orient": "top", "offset": -71, "values": [10,15,20,25,30,35,40], "grid": false, "domainColor": "#000", "tickColor": "#000", "tickSize": 3, "labelPadding": 9, "labelFontSize": 12.5, "title": null}},
                   "y": {"field": "depth", "type": "quantitative", "scale": {"domain": [0, 25], "range": [71, 413], "nice": false, "zero": false}, "axis": {"orient": "left", "offset": -66, "values": [0,1,2,3,4,5,6,7,8,9,10,11,12,13,14,15,16,17,18,19,20,21,22,23,24,25], "grid": true, "gridColor": "#d9d9d9", "domainColor": "#000", "tickColor": "#000", "tickSize": 4, "labelPadding": 6, "labelFontSize": 11, "title": "水深(m)", "titleFontSize": 12, "titleFontWeight": "normal", "titlePadding": 14}},
                   "order": {"field": "depth", "type": "quantitative"}}},
     {"mark": {"type": "point", "filled": true, "opacity": 1, "size": 60},
      "encoding": {
        "x": {"field": "sal", "type": "quantitative", "scale": {"domain": [10, 40], "range": [66, 235], "nice": false, "zero": false}, "axis": {"orient": "top", "offset": -71, "values": [10,15,20,25,30,35,40], "grid": false, "domainColor": "#000", "tickColor": "#000", "tickSize": 3, "labelPadding": 9, "labelFontSize": 12.5, "title": null}},
        "y": {"field": "depth", "type": "quantitative", "scale": {"domain": [0, 25], "range": [71, 413], "nice": false, "zero": false}, "axis": {"orient": "left", "offset": -66, "values": [0,1,2,3,4,5,6,7,8,9,10,11,12,13,14,15,16,17,18,19,20,21,22,23,24,25], "grid": true, "gridColor": "#d9d9d9", "domainColor": "#000", "tickColor": "#000", "tickSize": 4, "labelPadding": 6, "labelFontSize": 11, "title": "水深(m)", "titleFontSize": 12, "titleFontWeight": "normal", "titlePadding": 14}},
        "color": {"datum": "塩分", "type": "nominal", "scale": {"domain": ["換算SS", "（mg/L）", "塩分"], "range": ["#C55A11", "rgba(0,0,0,0)", "#2F5597"]},
                  "legend": {"orient": "none", "legendX": 247, "legendY": 80, "title": null, "padding": 0, "labelFontSize": 15, "symbolSize": 80, "symbolStrokeWidth": 0, "rowPadding": 3.5, "labelOffset": 1}},
        "shape": {"datum": "塩分", "type": "nominal", "scale": {"domain": ["換算SS", "（mg/L）", "塩分"], "range": ["circle", "circle", "square"]},
                  "legend": {"orient": "none", "legendX": 247, "legendY": 80, "title": null, "padding": 0, "labelFontSize": 15, "symbolSize": 80, "symbolStrokeWidth": 0, "rowPadding": 3.5, "labelOffset": 1}}
      }}
   ]}
  ]}
]}
    ]}
  ]}
 ]}
]
}
